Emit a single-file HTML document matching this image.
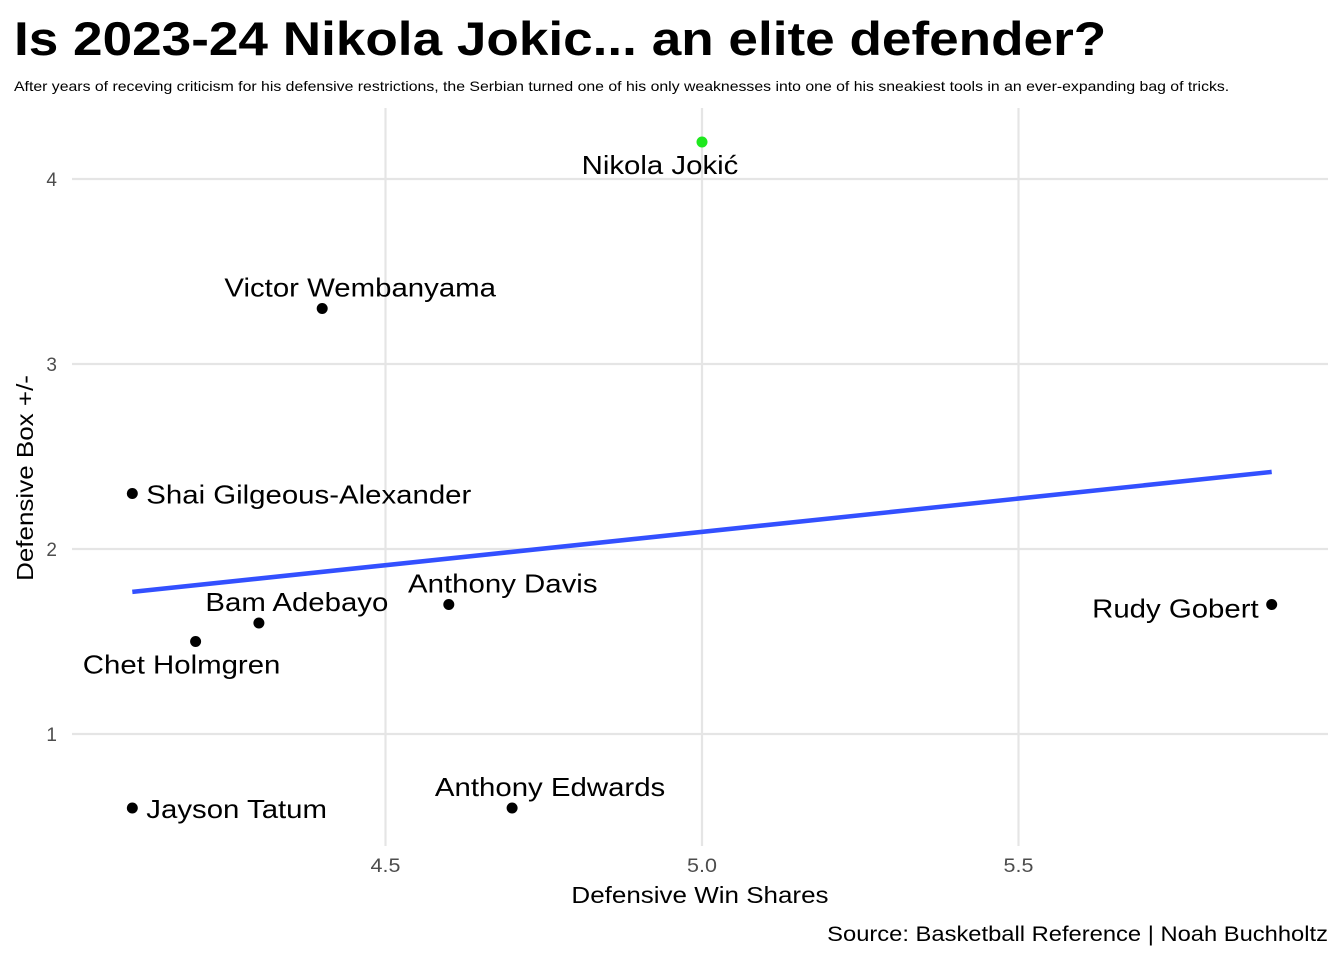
<!DOCTYPE html>
<html><head><meta charset="utf-8"><style>
body{margin:0;background:#fff;width:1344px;height:960px;overflow:hidden;font-family:"Liberation Sans",Arial,sans-serif}
</style></head><body>
<svg id="svg" width="1344" height="960" font-family="Liberation Sans, Arial, sans-serif">
<text x="14" y="55" font-size="47" font-weight="bold">Is 2023-24 Nikola Jokic... an elite defender?</text>
<text x="14" y="91" font-size="14">After years of receving criticism for his defensive restrictions, the Serbian turned one of his only weaknesses into one of his sneakiest tools in an ever-expanding bag of tricks.</text>
<g id="grid"></g>
<g id="marks"></g>
<text x="700" y="903" font-size="23" text-anchor="middle">Defensive Win Shares</text>
<text transform="translate(33,478) rotate(-90)" font-size="23" text-anchor="middle">Defensive Box +/-</text>
<text x="1328" y="941" font-size="21" text-anchor="end">Source: Basketball Reference | Noah Buchholtz</text>
</svg>
<script>
const players=["Nikola Jokić","Victor Wembanyama","Shai Gilgeous-Alexander","Jayson Tatum","Chet Holmgren","Bam Adebayo","Anthony Davis","Anthony Edwards","Rudy Gobert"];
const dws=[5.0,4.4,4.1,4.1,4.2,4.3,4.6,4.7,5.9];
const dbpm=[4.2,3.3,2.3,0.6,1.5,1.6,1.7,0.6,1.7];
const xTicks=[4.5,5.0,5.5];
const xTickLabels=["4.5","5.0","5.5"];
const yTicks=[1,2,3,4];
const yTickLabels=["1","2","3","4"];
// label placement offsets (dx, dy, anchor) — layout only
const labOff=[[-42,32,"middle"],[38,-12,"middle"],[14,10,"start"],[14,10,"start"],[-14,32,"middle"],[38,-12,"middle"],[54,-12,"middle"],[38,-12,"middle"],[-13,13,"end"]];
const X=v=>702+(v-5)*633, Y=v=>734-(v-1)*185;
const NS="http://www.w3.org/2000/svg";
function mk(t,a,p){const e=document.createElementNS(NS,t);for(const k in a)e.setAttribute(k,a[k]);p.appendChild(e);return e;}
const g=document.getElementById('grid'), m=document.getElementById('marks');
xTicks.forEach((v,i)=>{
  const l=mk('line',{x1:X(v),x2:X(v),y1:108,y2:846,stroke:'#e5e5e5','stroke-width':2.2},g);
  
  
  const t=mk('text',{x:X(v),y:872,'font-size':19,fill:'#4d4d4d','text-anchor':'middle'},g);
  t.textContent=xTickLabels[i];
  
  
});
yTicks.forEach((v,i)=>{
  const l=mk('line',{x1:72,x2:1328,y1:Y(v),y2:Y(v),stroke:'#e5e5e5','stroke-width':2.2},g);
  
  
  const t=mk('text',{x:57,y:Y(v)+7,'font-size':19,fill:'#4d4d4d','text-anchor':'end'},g);
  t.textContent=yTickLabels[i];
  
  
});
const n=dws.length,mx=dws.reduce((a,b)=>a+b)/n,my=dbpm.reduce((a,b)=>a+b)/n;
let sxy=0,sxx=0;for(let i=0;i<n;i++){sxy+=(dws[i]-mx)*(dbpm[i]-my);sxx+=(dws[i]-mx)**2;}
const b=sxy/sxx,a=my-b*mx,x0=Math.min(...dws),x1=Math.max(...dws);
const rl=mk('line',{x1:X(x0),y1:Y(a+b*x0),x2:X(x1),y2:Y(a+b*x1),stroke:'#3350ff','stroke-width':4.5},m);


players.forEach((p,i)=>{
  const c=mk('circle',{cx:X(dws[i]),cy:Y(dbpm[i]),r:5.5,fill:i===0?'#1ee81e':'#000'},m);
  
  
  const o=labOff[i];
  const t=mk('text',{x:X(dws[i])+o[0],y:Y(dbpm[i])+o[1],'font-size':26,'text-anchor':o[2]},m);
  t.textContent=p;
  
  
});
// widen text to match Helvetica metrics of the reference
document.querySelectorAll('#svg text').forEach(t=>{
  const w=t.getComputedTextLength();
  if(w>20){t.setAttribute('textLength',(w*1.13).toFixed(1));t.setAttribute('lengthAdjust','spacingAndGlyphs');}
});
</script>
</body></html>
